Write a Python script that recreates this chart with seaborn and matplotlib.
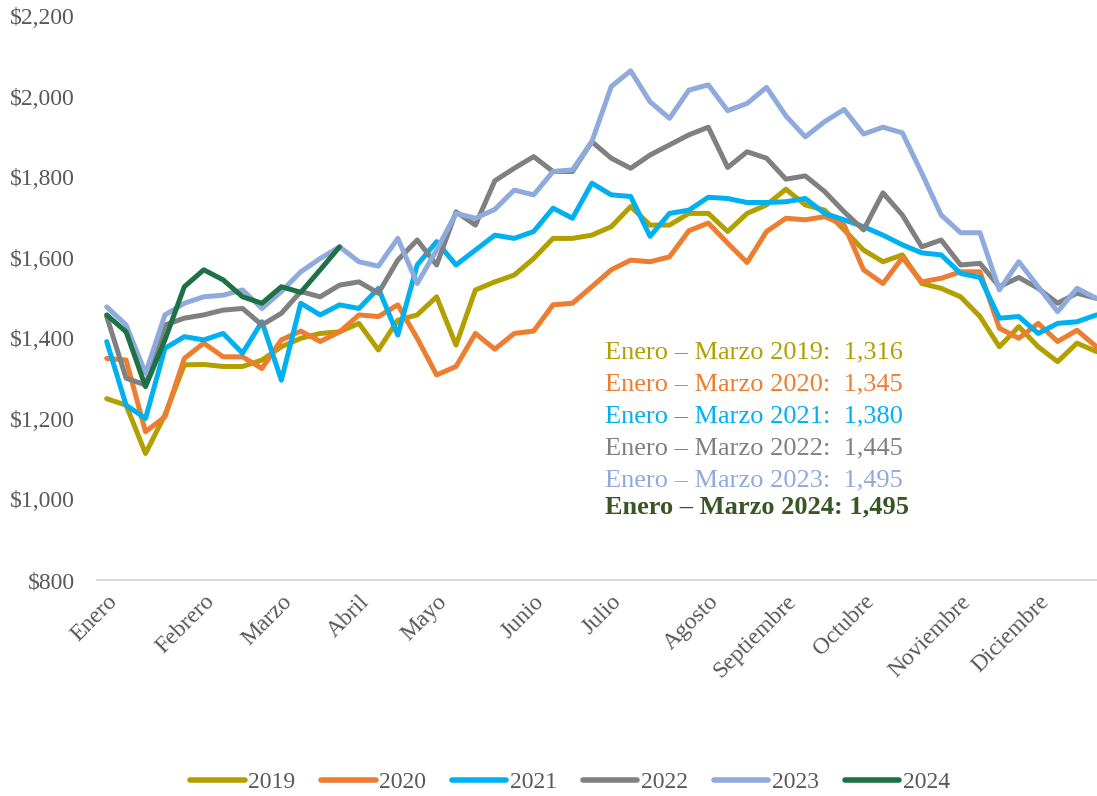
import numpy as np
import pandas as pd
import matplotlib
matplotlib.use('Agg')
import matplotlib.pyplot as plt
import matplotlib.ticker as mticker
import seaborn as sns

# datos semanales (semana 1..52)
weeks = list(range(1, 53))
v2019 = [1250, 1234, 1114, 1210, 1334, 1335, 1330, 1330, 1346, 1379,
         1400, 1412, 1416, 1437, 1371, 1445, 1458, 1503, 1383, 1520,
         1540, 1557, 1598, 1648, 1648, 1656, 1677, 1727, 1681, 1681,
         1710, 1710, 1665, 1710, 1731, 1770, 1731, 1718, 1669, 1619,
         1590, 1607, 1536, 1524, 1503, 1454, 1379, 1429, 1379, 1342,
         1388, 1367]
v2020 = [1350, 1346, 1168, 1205, 1350, 1388, 1354, 1354, 1325, 1396,
         1418, 1392, 1416, 1458, 1454, 1483, 1400, 1309, 1330, 1412,
         1373, 1412, 1418, 1483, 1487, 1528, 1570, 1594, 1590, 1602,
         1667, 1686, 1636, 1588, 1665, 1698, 1694, 1702, 1681, 1570,
         1536, 1600, 1540, 1549, 1565, 1565, 1425, 1400, 1437, 1392,
         1420, 1379]
v2021 = [1392, 1234, 1201, 1375, 1404, 1396, 1412, 1363, 1441, 1296,
         1487, 1458, 1483, 1474, 1524, 1408, 1582, 1640, 1582, 1619,
         1656, 1648, 1665, 1723, 1698, 1785, 1756, 1752, 1653, 1710,
         1718, 1750, 1747, 1737, 1737, 1739, 1747, 1710, 1694, 1677,
         1656, 1632, 1612, 1607, 1561, 1551, 1450, 1454, 1412, 1437,
         1441, 1458]
v2022 = [1454, 1301, 1284, 1433, 1450, 1458, 1470, 1474, 1433, 1462,
         1516, 1503, 1532, 1540, 1512, 1594, 1644, 1582, 1714, 1681,
         1791, 1822, 1851, 1814, 1814, 1888, 1847, 1822, 1855, 1880,
         1905, 1924, 1824, 1863, 1847, 1795, 1803, 1764, 1714, 1669,
         1761, 1706, 1627, 1644, 1582, 1586, 1528, 1551, 1524, 1487,
         1512, 1499]
v2023 = [1478, 1433, 1313, 1458, 1487, 1503, 1507, 1520, 1474, 1516,
         1565, 1598, 1627, 1590, 1579, 1648, 1536, 1619, 1710, 1698,
         1720, 1768, 1756, 1814, 1818, 1888, 2025, 2064, 1987, 1946,
         2016, 2029, 1965, 1983, 2023, 1952, 1900, 1938, 1968, 1907,
         1924, 1910, 1810, 1706, 1662, 1662, 1520, 1590, 1528, 1466,
         1524, 1499]
v2024 = [1458, 1416, 1280, 1396, 1528, 1570, 1545, 1503, 1487, 1528,
         1514, 1570, 1627]

years = ['2019', '2020', '2021', '2022', '2023', '2024']
series = [v2019, v2020, v2021, v2022, v2023, v2024]
colores = ['#B3A000', '#ED7D31', '#00B0F0', '#808080', '#8FAADC', '#1E7145']

meses = ['Enero', 'Febrero', 'Marzo', 'Abril', 'Mayo', 'Junio', 'Julio',
         'Agosto', 'Septiembre', 'Octubre', 'Noviembre', 'Diciembre']
semana_mes = [1, 6, 10, 14, 18, 23, 27, 32, 36, 40, 45, 49]

promedios = ['1,316', '1,345', '1,380', '1,445', '1,495', '1,495']
colores_txt = ['#B3A000', '#ED7D31', '#00B0F0', '#808080', '#8FAADC', '#375623']

# tabla larga para seaborn
rows = []
for y, vals in zip(years, series):
    for w, v in zip(weeks, vals):
        rows.append({'Semana': w, 'Valor': v, 'Año': y})
df = pd.DataFrame(rows)

sns.set_theme(style='white')
plt.rcParams['font.family'] = ['Liberation Serif', 'DejaVu Serif']

fig = plt.figure(figsize=(10.97, 7.96), dpi=100)
ax = fig.add_axes([97 / 1097, 1 - 580 / 796, 1000 / 1097, 564 / 796])

sns.lineplot(data=df, x='Semana', y='Valor', hue='Año', hue_order=years,
             palette=dict(zip(years, colores)), linewidth=3.6, ax=ax,
             solid_joinstyle='round', solid_capstyle='round')

ax.set_xlim(0.5, 52.03)
ax.set_ylim(800, 2200)
ax.set_yticks(np.arange(800, 2201, 200))
ax.yaxis.set_major_formatter(mticker.StrMethodFormatter('${x:,.0f}'))
ax.set_xticks(semana_mes)
ax.set_xticklabels(meses, rotation=45, ha='right', rotation_mode='anchor')
ax.tick_params(axis='both', length=0, labelsize=17, labelcolor='#595959')
ax.tick_params(axis='y', pad=16)
ax.tick_params(axis='x', pad=8)
ax.set_xlabel('')
ax.set_ylabel('')
for s in ['top', 'right', 'left']:
    ax.spines[s].set_visible(False)
ax.spines['bottom'].set_color('#D9D9D9')
ax.spines['bottom'].set_linewidth(1.3)
ax.grid(False)

# textos de promedios enero-marzo
ys = [352, 384, 416, 448, 480, 507]
for i, (y, p) in enumerate(zip(years, promedios)):
    if y == '2024':
        txt = f'Enero – Marzo {y}: {p}'
        fw = 'bold'
    else:
        txt = f'Enero – Marzo {y}:  {p}'
        fw = 'normal'
    fig.text(605 / 1097, 1 - ys[i] / 796, txt, color=colores_txt[i],
             fontsize=19, fontweight=fw, va='center', ha='left')

sns.move_legend(ax, 'center', bbox_to_anchor=(570 / 1097, 1 - 782 / 796),
                bbox_transform=fig.transFigure, ncol=6, frameon=False,
                title=None, fontsize=17, handlelength=2.3, handletextpad=0.15,
                columnspacing=1.1)
for t in ax.get_legend().get_texts():
    t.set_color('#595959')
for h in ax.get_legend().legend_handles:
    h.set_linewidth(4)
    h.set_solid_capstyle('round')

fig.savefig('out.png', dpi=100)
